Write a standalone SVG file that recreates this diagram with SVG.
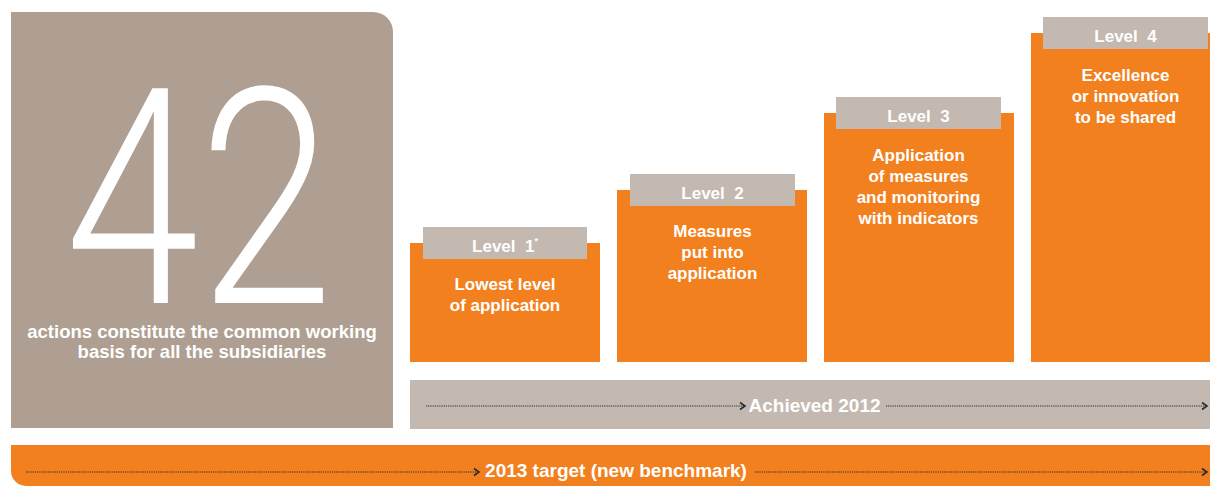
<svg xmlns="http://www.w3.org/2000/svg" width="1210" height="486" viewBox="0 0 1210 486">
  <defs>
    <style>
      .lbl { fill: #ffffff; font-family: "Liberation Sans", Arial, sans-serif; font-weight: bold; text-anchor: middle; }
      .tab { fill: #c3b9b0; }
      .lvl { fill: #f2801e; }
      .dot { fill: none; stroke: #2b2b2b; stroke-width: 1.2; stroke-dasharray: 1.2 1; }
      .big { fill: #ffffff; font-family: Roboto, "Liberation Sans", sans-serif; font-weight: 300; }
    </style>
    <marker id="chev" markerUnits="userSpaceOnUse" markerWidth="10" markerHeight="10" viewBox="0 0 10 10" refX="8" refY="5" orient="auto">
      <path d="M3 1.5 L8 5 L3 8.5" fill="none" stroke="#2b2b2b" stroke-width="1.6"/>
    </marker>
  </defs>

  <!-- headline block -->
  <g id="headline">
    <path d="M11 12 H373 A20 20 0 0 1 393 32 V428 H11 Z" fill="#ae9f92"/>
    <text class="big" x="0" y="303" font-size="302" text-anchor="middle" transform="translate(199 0) scale(0.8 1)">42</text>
    <text class="lbl" x="202" y="338" font-size="18.5">actions constitute the common working</text>
    <text class="lbl" x="202" y="358" font-size="18.5">basis for all the subsidiaries</text>
  </g>

  <!-- level 1 -->
  <g id="level1">
    <rect class="lvl" x="410" y="243" width="190" height="119"/>
    <rect class="tab" x="423" y="227" width="164" height="32"/>
    <text class="lbl" x="505" y="252" font-size="17" xml:space="preserve">Level  1<tspan font-size="9" dy="-8">*</tspan></text>
    <text class="lbl" x="505" y="290" font-size="17">Lowest level</text>
    <text class="lbl" x="505" y="311" font-size="17">of application</text>
  </g>

  <!-- level 2 -->
  <g id="level2">
    <rect class="lvl" x="617" y="190" width="190" height="172"/>
    <rect class="tab" x="630" y="174" width="165" height="32"/>
    <text class="lbl" x="712.5" y="199" font-size="17" xml:space="preserve">Level  2</text>
    <text class="lbl" x="712.5" y="237" font-size="17">Measures</text>
    <text class="lbl" x="712.5" y="258" font-size="17">put into</text>
    <text class="lbl" x="712.5" y="279" font-size="17">application</text>
  </g>

  <!-- level 3 -->
  <g id="level3">
    <rect class="lvl" x="824" y="113" width="190" height="249"/>
    <rect class="tab" x="836" y="97" width="165" height="32"/>
    <text class="lbl" x="918.5" y="122" font-size="17" xml:space="preserve">Level  3</text>
    <text class="lbl" x="918.5" y="161" font-size="17">Application</text>
    <text class="lbl" x="918.5" y="182" font-size="17">of measures</text>
    <text class="lbl" x="918.5" y="203" font-size="17">and monitoring</text>
    <text class="lbl" x="918.5" y="224" font-size="17">with indicators</text>
  </g>

  <!-- level 4 -->
  <g id="level4">
    <rect class="lvl" x="1031" y="33" width="179" height="329"/>
    <rect class="tab" x="1043" y="17" width="165" height="32"/>
    <text class="lbl" x="1125.5" y="42" font-size="17" xml:space="preserve">Level  4</text>
    <text class="lbl" x="1125.5" y="81" font-size="17">Excellence</text>
    <text class="lbl" x="1125.5" y="102" font-size="17">or innovation</text>
    <text class="lbl" x="1125.5" y="123" font-size="17">to be shared</text>
  </g>

  <!-- achieved band -->
  <g id="achieved">
    <rect class="tab" x="410" y="380" width="800" height="49"/>
    <text class="lbl" x="814.5" y="412" font-size="19">Achieved 2012</text>
  </g>

  <!-- target band -->
  <g id="target">
    <path d="M11 445 H1210 V486 H26 A15 15 0 0 1 11 471 Z" fill="#f2801e"/>
    <text class="lbl" x="616" y="477" font-size="19">2013 target (new benchmark)</text>
  </g>

  <!-- dotted timeline arrows -->
  <g id="connectors">
    <line class="dot" x1="426" y1="406" x2="745" y2="406" marker-end="url(#chev)"/>
    <line class="dot" x1="886" y1="406" x2="1207" y2="406" marker-end="url(#chev)"/>
    <line class="dot" x1="26" y1="472" x2="479" y2="472" marker-end="url(#chev)"/>
    <line class="dot" x1="755" y1="472" x2="1207" y2="472" marker-end="url(#chev)"/>
  </g>
</svg>
